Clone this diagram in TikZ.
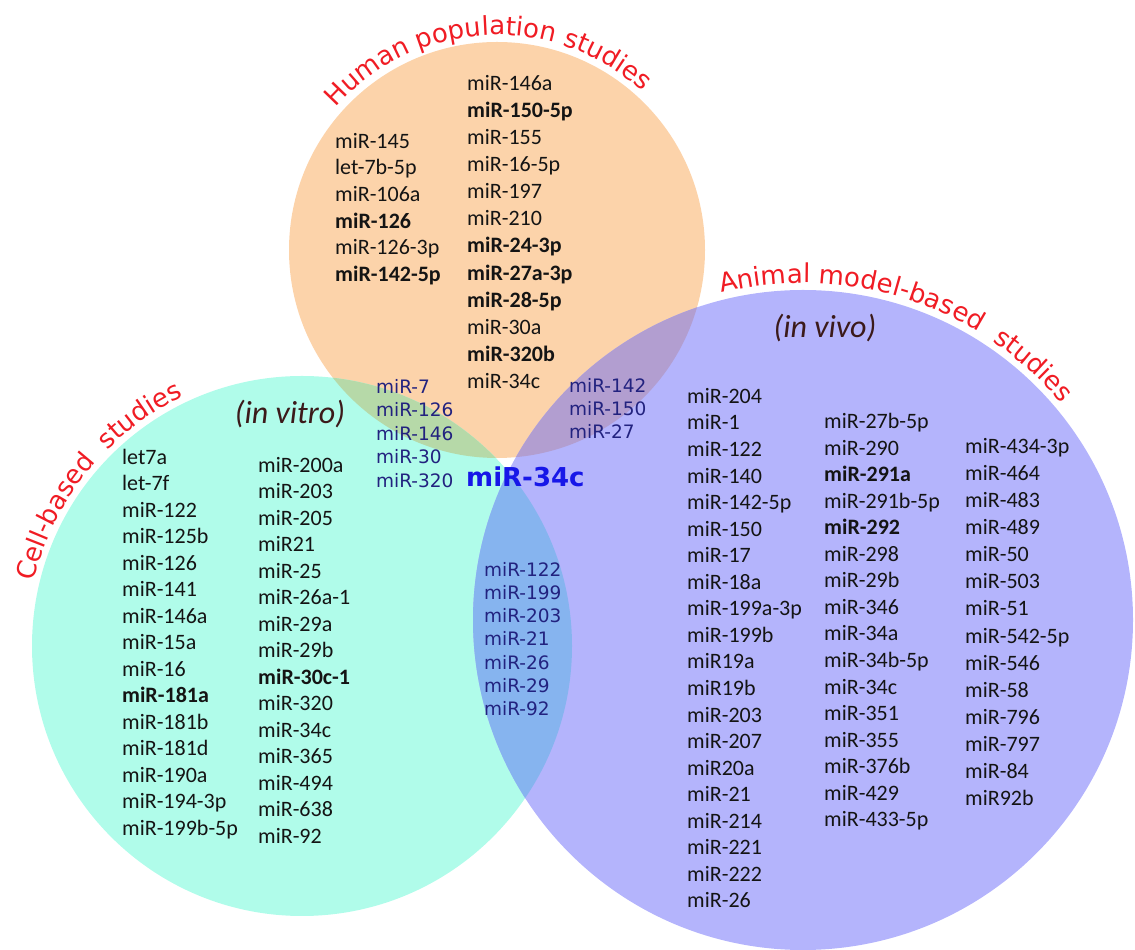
\documentclass[tikz,border=0pt]{standalone}
\usepackage{fontspec}
\setmainfont{Carlito}
\newfontfamily\dejavu{DejaVu Sans}
\usetikzlibrary{decorations.text}
\definecolor{humfill}{HTML}{FCD3AA}
\definecolor{cellfill}{HTML}{B0FCEA}
\definecolor{animfill}{HTML}{B4B4FC}
\definecolor{humcellfill}{HTML}{B6D9A8}
\definecolor{humanimfill}{HTML}{B29ED0}
\definecolor{cellanimfill}{HTML}{86B4EF}
\definecolor{listgray}{HTML}{141414}
\definecolor{ovlblue}{HTML}{22227F}
\definecolor{keyblue}{HTML}{1717E8}
\definecolor{studyred}{HTML}{F01C24}
\definecolor{invivo}{HTML}{3B1A1A}
\newcommand\studyfont{\dejavu\fontsize{26}{26}\selectfont\color{studyred}}
\tikzset{
  lst/.style={inner sep=0pt, align=left, anchor=north west, text=listgray,
    font=\fontsize{22}{#1}\selectfont},
  lst/.default=26.6,
  ovl/.style={inner sep=0pt, align=left, anchor=north west, text=ovlblue,
    font=\dejavu\fontsize{18.5}{#1}\selectfont},
  ovl/.default=23.3,
  invitro/.style={inner sep=0pt, text=invivo, font=\fontsize{32}{32}\selectfont\itshape}
}
\begin{document}
\begin{tikzpicture}[x=1pt,y=1pt]
\useasboundingbox (0,0) rectangle (1135,950);
\coordinate (hum) at (497,700);
\coordinate (cell) at (302,304);
\coordinate (anim) at (803,330);
\fill [humfill] (hum) circle (208);
\fill [cellfill] (cell) circle (270);
\fill [animfill] (anim) circle (330);
\begin{scope}
\clip (hum) circle (208);
\fill [humcellfill] (cell) circle (270);
\fill [humanimfill] (anim) circle (330);
\end{scope}
\begin{scope}
\clip (cell) circle (270);
\fill [cellanimfill] (anim) circle (330);
\end{scope}
% study titles
\path [decorate, decoration={text along path, text align=center,
  text={|\studyfont|Human population studies}}]
  (hum) ++(183:215) arc [start angle=183, end angle=3, radius=215];
\path [decorate, decoration={text along path, text align=center,
  text={|\studyfont|Cell-based {\ }studies}}]
  (cell) ++(201:276) arc [start angle=201, end angle=81, radius=276];
\path [decorate, decoration={text along path, text align=center,
  text={|\studyfont|Animal model-based {\ }studies}}]
  (anim) ++(132:337) arc [start angle=132, end angle=12, radius=337];
\node [invitro] (vitro) at (290,536) {(in vitro)};
\node [invitro] (vivo) at (825,622) {(in vivo)};
% human population
\node [lst] (hum-a) at (335,817) {miR-145\\let-7b-5p\\miR-106a\\\textbf{miR-126}\\miR-126-3p\\\textbf{miR-142-5p}};
\node [lst=27.1] (hum-b) at (467,875) {miR-146a\\\textbf{miR-150-5p}\\miR-155\\miR-16-5p\\miR-197\\miR-210\\\textbf{miR-24-3p}\\\textbf{miR-27a-3p}\\\textbf{miR-28-5p}\\miR-30a\\\textbf{miR-320b}\\miR-34c};
% cell-based
\node [lst=26.5] (cell-a) at (122,501) {let7a\\let-7f\\miR-122\\miR-125b\\miR-126\\miR-141\\miR-146a\\miR-15a\\miR-16\\\textbf{miR-181a}\\miR-181b\\miR-181d\\miR-190a\\miR-194-3p\\miR-199b-5p};
\node [lst=26.5] (cell-b) at (258,493) {miR-200a\\miR-203\\miR-205\\miR21\\miR-25\\miR-26a-1\\miR-29a\\miR-29b\\\textbf{miR-30c-1}\\miR-320\\miR-34c\\miR-365\\miR-494\\miR-638\\miR-92};
% animal model-based
\node [lst=26.56] (anim-a) at (687,562) {miR-204\\miR-1\\miR-122\\miR-140\\miR-142-5p\\miR-150\\miR-17\\miR-18a\\miR-199a-3p\\miR-199b\\miR19a\\miR19b\\miR-203\\miR-207\\miR20a\\miR-21\\miR-214\\miR-221\\miR-222\\miR-26};
\node [lst=26.56] (anim-b) at (824,537) {miR-27b-5p\\miR-290\\\textbf{miR-291a}\\miR-291b-5p\\\textbf{miR-292}\\miR-298\\miR-29b\\miR-346\\miR-34a\\miR-34b-5p\\miR-34c\\miR-351\\miR-355\\miR-376b\\miR-429\\miR-433-5p};
\node [lst=27.1] (anim-c) at (965,512) {miR-434-3p\\miR-464\\miR-483\\miR-489\\miR-50\\miR-503\\miR-51\\miR-542-5p\\miR-546\\miR-58\\miR-796\\miR-797\\miR-84\\miR92b};
% overlaps
\node [ovl=23.5] (hum-cell) at (376,571) {miR-7\\miR-126\\miR-146\\miR-30\\miR-320};
\node [ovl=23] (hum-anim) at (569,571.5) {miR-142\\miR-150\\miR-27};
\node [ovl=23.2] (cell-anim) at (484,388) {miR-122\\miR-199\\miR-203\\miR-21\\miR-26\\miR-29\\miR-92};
\node [anchor=west, inner sep=0pt, text=keyblue, font=\dejavu\bfseries\fontsize{26}{26}\selectfont] (all) at (466,473) {miR-34c};
\end{tikzpicture}
\end{document}
